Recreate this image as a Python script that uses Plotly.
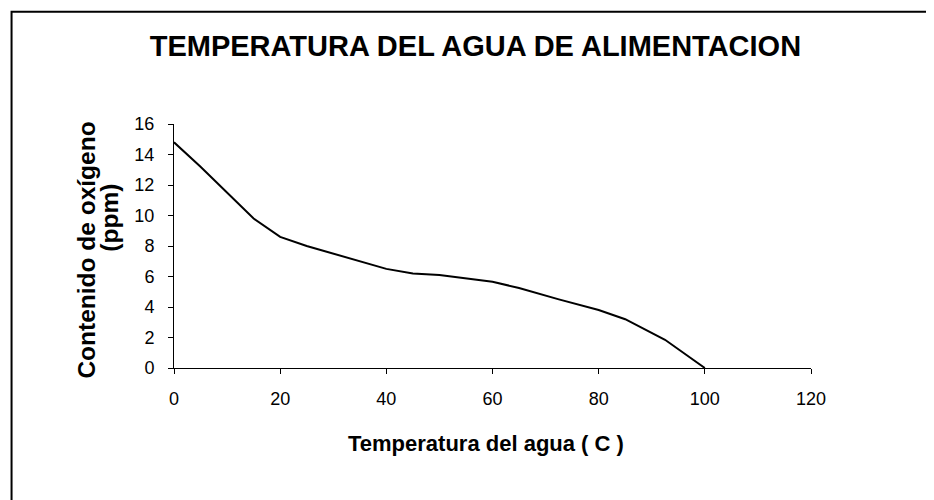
import plotly.graph_objects as go

# Data
temperatura = [0, 5, 15, 20, 25, 40, 45, 50, 60, 65, 72.5, 80, 85, 92.5, 100]
oxigeno = [14.8, 13.2, 9.8, 8.6, 8.0, 6.5, 6.2, 6.1, 5.65, 5.25, 4.5, 3.8, 3.2, 1.85, 0.0]

x_ticks = [0, 20, 40, 60, 80, 100, 120]
y_ticks = [0, 2, 4, 6, 8, 10, 12, 14, 16]

title_text = "TEMPERATURA DEL AGUA DE ALIMENTACION"
x_title = "Temperatura del agua ( C )"
y_title_1 = "Contenido de oxígeno"
y_title_2 = "(ppm)"

FONT = "Arial, Liberation Sans, sans-serif"

W, H = 934, 500
OFF = 8  # page body margin
# plot area in screen pixels (reference)
SX0, SX1, SY0, SY1 = 173.5, 810.7, 123.5, 368.3
L, T = SX0 - OFF, SY0 - OFF
R, B = W - (SX1 - OFF), H - (SY1 - OFF)
pw, ph = W - L - R, H - T - B

def px_to_paper_x(px):
    return (px - OFF - L) / pw

def px_to_paper_y(py):
    return (H - B - (py - OFF)) / ph

fig = go.Figure()
fig.add_trace(go.Scatter(
    x=temperatura, y=oxigeno, mode="lines",
    line=dict(color="black", width=2),
    showlegend=False, hoverinfo="x+y",
))

axis_common = dict(
    showline=True, linecolor="black", linewidth=1,
    ticks="outside", ticklen=5, tickwidth=1, tickcolor="black",
    showgrid=False, zeroline=False,
    tickfont=dict(family=FONT, size=18, color="black"),
)

fig.update_layout(
    width=W, height=H,
    margin=dict(l=L, r=R, t=T, b=B, pad=0),
    paper_bgcolor="white", plot_bgcolor="white",
    xaxis=dict(range=[0, 120], tickvals=x_ticks, ticklabelstandoff=9, **axis_common),
    yaxis=dict(range=[0, 16], tickvals=y_ticks, ticklabelstandoff=10, **axis_common),
    title=dict(text=title_text, x=px_to_paper_x(475), xref="paper", xanchor="center",
               y=1 - (46 - OFF) / H, yref="container", yanchor="middle",
               font=dict(family=FONT, size=29, color="black", weight="bold")),
    annotations=[
        dict(text="<b>" + x_title + "</b>", x=px_to_paper_x(486), y=px_to_paper_y(444),
             xref="paper", yref="paper", xanchor="center", yanchor="middle",
             showarrow=False, font=dict(family=FONT, size=22, color="black")),
        dict(text="<b>" + y_title_1 + "</b>", x=px_to_paper_x(86), y=px_to_paper_y(250),
             xref="paper", yref="paper", xanchor="center", yanchor="middle",
             textangle=-90, showarrow=False,
             font=dict(family=FONT, size=24.5, color="black")),
        dict(text="<b>" + y_title_2 + "</b>", x=px_to_paper_x(109), y=px_to_paper_y(218),
             xref="paper", yref="paper", xanchor="center", yanchor="middle",
             textangle=-90, showarrow=False,
             font=dict(family=FONT, size=24.5, color="black")),
    ],
    shapes=[
        dict(type="rect", xref="paper", yref="paper",
             x0=px_to_paper_x(11), y0=px_to_paper_y(H + 40),
             x1=px_to_paper_x(W + 40), y1=px_to_paper_y(11),
             line=dict(color="black", width=2), fillcolor="rgba(0,0,0,0)", layer="below"),
    ],
)

fig.write_html("out.html")
